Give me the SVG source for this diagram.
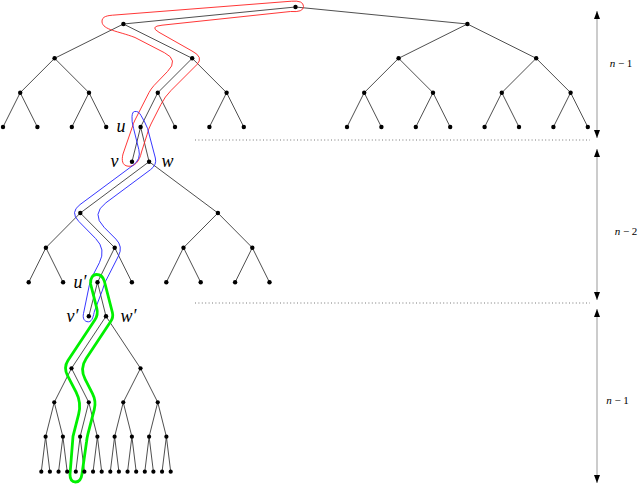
<svg xmlns="http://www.w3.org/2000/svg" width="639" height="485" viewBox="0 0 639 485">
<defs>
<style>
.e{stroke:#222;stroke-width:0.8;fill:none}
.n circle{fill:#000}
.lbl{font-family:"Liberation Serif",serif;font-style:italic;font-size:18px;fill:#000;text-anchor:middle}
.dim{font-family:"Liberation Serif",serif;font-size:11px;fill:#000;text-anchor:middle}
.dot{stroke:#555;stroke-width:0.8;stroke-dasharray:1 2.4;fill:none}
.ar{stroke:#999;stroke-width:1;fill:none;marker-start:url(#ah);marker-end:url(#ah)}
.loop{fill:none;stroke-linejoin:round}
</style>
<marker id="ah" markerUnits="userSpaceOnUse" markerWidth="8" markerHeight="6" refX="8" refY="3" orient="auto-start-reverse" viewBox="0 0 8 6"><path d="M0,0 L8,3 L0,6 Z" fill="#000"/></marker>
</defs>
<rect width="639" height="485" fill="#fff"/>
<g id="connectors" class="e">
<path d="M295.5,7L123.4,24 M295.5,7L467.4,24 M123.4,24L54.6,58.3 M123.4,24L192.2,58.3 M467.4,24L398.6,58.3 M467.4,24L536.2,58.3 M54.6,58.3L20.2,92.7 M54.6,58.3L89,92.7 M192.2,58.3L157.8,92.7 M192.2,58.3L226.6,92.7 M398.6,58.3L364.2,92.7 M398.6,58.3L433,92.7 M536.2,58.3L501.8,92.7 M536.2,58.3L570.6,92.7 M20.2,92.7L3,127 M20.2,92.7L37.4,127 M89,92.7L71.8,127 M89,92.7L106.2,127 M157.8,92.7L140.6,127 M157.8,92.7L175,127 M226.6,92.7L209.4,127 M226.6,92.7L243.8,127 M364.2,92.7L347,127 M364.2,92.7L381.4,127 M433,92.7L415.8,127 M433,92.7L450.2,127 M501.8,92.7L484.6,127 M501.8,92.7L519,127 M570.6,92.7L553.4,127 M570.6,92.7L587.8,127"/>
<path d="M140.6,127L132,161.7 M140.6,127L149.1,161.7 M149.1,161.7L80.3,213 M149.1,161.7L217.9,213 M80.3,213L45.9,247.7 M80.3,213L114.7,247.7 M217.9,213L183.5,247.7 M217.9,213L252.3,247.7 M45.9,247.7L28.7,282.3 M45.9,247.7L63.1,282.3 M114.7,247.7L97.5,282.3 M114.7,247.7L131.9,282.3 M183.5,247.7L166.3,282.3 M183.5,247.7L200.7,282.3 M252.3,247.7L235.1,282.3 M252.3,247.7L269.5,282.3"/>
<path d="M97.5,282.3L88.8,316.3 M97.5,282.3L106,316.3 M106,316.3L71.5,368.3 M106,316.3L140.5,368.3 M71.5,368.3L54.25,402.3 M71.5,368.3L88.75,402.3 M140.5,368.3L123.25,402.3 M140.5,368.3L157.75,402.3 M54.25,402.3L45.6,436.7 M54.25,402.3L62.9,436.7 M88.75,402.3L80.1,436.7 M88.75,402.3L97.4,436.7 M123.25,402.3L114.6,436.7 M123.25,402.3L131.9,436.7 M157.75,402.3L149.1,436.7 M157.75,402.3L166.4,436.7 M45.6,436.7L41.3,471.7 M45.6,436.7L49.9,471.7 M62.9,436.7L58.55,471.7 M62.9,436.7L67.2,471.7 M80.1,436.7L75.8,471.7 M80.1,436.7L84.4,471.7 M97.4,436.7L93.05,471.7 M97.4,436.7L101.7,471.7 M114.6,436.7L110.3,471.7 M114.6,436.7L118.9,471.7 M131.9,436.7L127.55,471.7 M131.9,436.7L136.2,471.7 M149.1,436.7L144.8,471.7 M149.1,436.7L153.4,471.7 M166.4,436.7L162.05,471.7 M166.4,436.7L170.7,471.7"/>
</g>
<g id="guides">
<path class="dot" d="M195,140 H590 M195,303 H590"/>
<path class="ar" d="M597,11 V138"/>
<path class="ar" d="M597,149 V300"/>
<path class="ar" d="M597,309 V483"/>
<text class="dim" x="621" y="66.5"><tspan font-style="italic">n</tspan> − 1</text>
<text class="dim" x="626" y="235"><tspan font-style="italic">n</tspan> − 2</text>
<text class="dim" x="617.5" y="404"><tspan font-style="italic">n</tspan> − 1</text>
</g>
<g id="loops">
<path id="loop-red" class="loop" stroke="#ff2020" stroke-width="0.9" d="M115,15 L291.5,1.2 Q303.5,0.2 303.5,6.5 Q303.5,12.5 290.5,11.5 L162,25.2 Q149,26.5 159,32.3 L192,51 Q204,57.2 197,64.5 L171,90.5 Q164.9,96.6 161,104.3 L151,124 Q148.4,129 147,134.8 L141.5,152 C139.5,162 134,167 128,166.2 C122,165.5 121.5,160 123,154 L132.3,127 Q133.3,123.4 135,120 L149,92.5 Q150.9,89 154,85.5 L167.6,71.4 Q178.9,60 164.6,52.8 L135,37.5 C118,31 103,30 102,22 C101.5,16 108,15.5 115,15 Z"/>
<path id="loop-blue" class="loop" stroke="#2020ff" stroke-width="0.9" d="M134.5,111.5 C137.5,111 139.5,112.5 141,115.5 Q145,122 147.6,128.5 L155.35,158 Q157,164.8 150.6,169.6 L105.9,202.8 Q91,213.9 104,227.2 L115.9,239.1 Q123.25,246.6 118.5,255.9 L106,280.5 Q103.8,285 102.5,290 L94.5,311 C93.5,315 92.5,321.8 88.5,321.8 C84,321.8 82.5,318 83.5,313.5 L89.3,285.3 Q90.8,279.5 93.5,274.2 L99.4,262.7 Q106.2,249.3 95.7,238.6 L78.7,221.3 Q69.7,212.2 80,204.6 L133.2,165.2 Q141.2,159.2 138.8,149.5 L133.6,128.5 Q131.5,121 132,116.5 C132.3,113.5 133,111.7 134.5,111.5 Z"/>
<path id="loop-green" class="loop" stroke="#00f000" stroke-width="2.8" d="M90.6,284 C90,278 93,274.5 96.5,274.5 C100.5,274.5 103.2,277.5 104.3,281 L112.4,312.5 Q113.6,317.3 110.5,321.8 L86.2,358.4 Q79.6,368.4 85.1,379.1 L92.5,393.6 Q96.4,401.2 94.3,409.4 L87.9,434.2 Q86.95,438.1 86.5,442 L82,474 C81.2,480 78.5,482 75.5,482 C72,482 70,479 70,474.5 L73,436.4 L78.6,414.4 Q81.6,402.8 76.1,392.1 L67.65,375.95 Q63.3,367.5 67.95,360.5 L94.8,320.1 Q98.4,314.7 96.8,308.4 Z"/>
</g>
<g id="tree1">
<g id="root" class="n"><circle cx="295.5" cy="7" r="2.2"/></g>
<g id="a1" class="n"><circle cx="123.4" cy="24" r="2.2"/></g>
<g id="a2" class="n"><circle cx="467.4" cy="24" r="2.2"/></g>
<g id="b1" class="n"><circle cx="54.6" cy="58.3" r="2.2"/></g>
<g id="b2" class="n"><circle cx="192.2" cy="58.3" r="2.2"/></g>
<g id="b3" class="n"><circle cx="398.6" cy="58.3" r="2.2"/></g>
<g id="b4" class="n"><circle cx="536.2" cy="58.3" r="2.2"/></g>
<g id="c1" class="n"><circle cx="20.2" cy="92.7" r="2.2"/></g>
<g id="c2" class="n"><circle cx="89" cy="92.7" r="2.2"/></g>
<g id="c3" class="n"><circle cx="157.8" cy="92.7" r="2.2"/></g>
<g id="c4" class="n"><circle cx="226.6" cy="92.7" r="2.2"/></g>
<g id="c5" class="n"><circle cx="364.2" cy="92.7" r="2.2"/></g>
<g id="c6" class="n"><circle cx="433" cy="92.7" r="2.2"/></g>
<g id="c7" class="n"><circle cx="501.8" cy="92.7" r="2.2"/></g>
<g id="c8" class="n"><circle cx="570.6" cy="92.7" r="2.2"/></g>
<g id="d1" class="n"><circle cx="3" cy="127" r="2.2"/></g>
<g id="d2" class="n"><circle cx="37.4" cy="127" r="2.2"/></g>
<g id="d3" class="n"><circle cx="71.8" cy="127" r="2.2"/></g>
<g id="d4" class="n"><circle cx="106.2" cy="127" r="2.2"/></g>
<g id="u" class="n"><circle cx="140.6" cy="127" r="2.2"/></g>
<g id="d6" class="n"><circle cx="175" cy="127" r="2.2"/></g>
<g id="d7" class="n"><circle cx="209.4" cy="127" r="2.2"/></g>
<g id="d8" class="n"><circle cx="243.8" cy="127" r="2.2"/></g>
<g id="d9" class="n"><circle cx="347" cy="127" r="2.2"/></g>
<g id="d10" class="n"><circle cx="381.4" cy="127" r="2.2"/></g>
<g id="d11" class="n"><circle cx="415.8" cy="127" r="2.2"/></g>
<g id="d12" class="n"><circle cx="450.2" cy="127" r="2.2"/></g>
<g id="d13" class="n"><circle cx="484.6" cy="127" r="2.2"/></g>
<g id="d14" class="n"><circle cx="519" cy="127" r="2.2"/></g>
<g id="d15" class="n"><circle cx="553.4" cy="127" r="2.2"/></g>
<g id="d16" class="n"><circle cx="587.8" cy="127" r="2.2"/></g>
</g>
<g id="tree2">
<g id="v" class="n"><circle cx="132" cy="161.7" r="2.2"/></g>
<g id="w" class="n"><circle cx="149.1" cy="161.7" r="2.2"/></g>
<g id="e1" class="n"><circle cx="80.3" cy="213" r="2.2"/></g>
<g id="e2" class="n"><circle cx="217.9" cy="213" r="2.2"/></g>
<g id="f1" class="n"><circle cx="45.9" cy="247.7" r="2.2"/></g>
<g id="f2" class="n"><circle cx="114.7" cy="247.7" r="2.2"/></g>
<g id="f3" class="n"><circle cx="183.5" cy="247.7" r="2.2"/></g>
<g id="f4" class="n"><circle cx="252.3" cy="247.7" r="2.2"/></g>
<g id="g1" class="n"><circle cx="28.7" cy="282.3" r="2.2"/></g>
<g id="g2" class="n"><circle cx="63.1" cy="282.3" r="2.2"/></g>
<g id="u2" class="n"><circle cx="97.5" cy="282.3" r="2.2"/></g>
<g id="g4" class="n"><circle cx="131.9" cy="282.3" r="2.2"/></g>
<g id="g5" class="n"><circle cx="166.3" cy="282.3" r="2.2"/></g>
<g id="g6" class="n"><circle cx="200.7" cy="282.3" r="2.2"/></g>
<g id="g7" class="n"><circle cx="235.1" cy="282.3" r="2.2"/></g>
<g id="g8" class="n"><circle cx="269.5" cy="282.3" r="2.2"/></g>
</g>
<g id="tree3">
<g id="v2" class="n"><circle cx="88.8" cy="316.3" r="2.2"/></g>
<g id="w2" class="n"><circle cx="106" cy="316.3" r="2.2"/></g>
<g id="h1" class="n"><circle cx="71.5" cy="368.3" r="2.1"/></g>
<g id="h2" class="n"><circle cx="140.5" cy="368.3" r="2.1"/></g>
<g id="i1" class="n"><circle cx="54.25" cy="402.3" r="2.1"/></g>
<g id="i2" class="n"><circle cx="88.75" cy="402.3" r="2.1"/></g>
<g id="i3" class="n"><circle cx="123.25" cy="402.3" r="2.1"/></g>
<g id="i4" class="n"><circle cx="157.75" cy="402.3" r="2.1"/></g>
<g id="j1" class="n"><circle cx="45.6" cy="436.7" r="2.1"/></g>
<g id="j2" class="n"><circle cx="62.9" cy="436.7" r="2.1"/></g>
<g id="j3" class="n"><circle cx="80.1" cy="436.7" r="2.1"/></g>
<g id="j4" class="n"><circle cx="97.4" cy="436.7" r="2.1"/></g>
<g id="j5" class="n"><circle cx="114.6" cy="436.7" r="2.1"/></g>
<g id="j6" class="n"><circle cx="131.9" cy="436.7" r="2.1"/></g>
<g id="j7" class="n"><circle cx="149.1" cy="436.7" r="2.1"/></g>
<g id="j8" class="n"><circle cx="166.4" cy="436.7" r="2.1"/></g>
<g id="k1" class="n"><circle cx="41.3" cy="471.7" r="2.1"/></g>
<g id="k2" class="n"><circle cx="49.9" cy="471.7" r="2.1"/></g>
<g id="k3" class="n"><circle cx="58.55" cy="471.7" r="2.1"/></g>
<g id="k4" class="n"><circle cx="67.2" cy="471.7" r="2.1"/></g>
<g id="k5" class="n"><circle cx="75.8" cy="471.7" r="2.1"/></g>
<g id="k6" class="n"><circle cx="84.4" cy="471.7" r="2.1"/></g>
<g id="k7" class="n"><circle cx="93.05" cy="471.7" r="2.1"/></g>
<g id="k8" class="n"><circle cx="101.7" cy="471.7" r="2.1"/></g>
<g id="k9" class="n"><circle cx="110.3" cy="471.7" r="2.1"/></g>
<g id="k10" class="n"><circle cx="118.9" cy="471.7" r="2.1"/></g>
<g id="k11" class="n"><circle cx="127.55" cy="471.7" r="2.1"/></g>
<g id="k12" class="n"><circle cx="136.2" cy="471.7" r="2.1"/></g>
<g id="k13" class="n"><circle cx="144.8" cy="471.7" r="2.1"/></g>
<g id="k14" class="n"><circle cx="153.4" cy="471.7" r="2.1"/></g>
<g id="k15" class="n"><circle cx="162.05" cy="471.7" r="2.1"/></g>
<g id="k16" class="n"><circle cx="170.7" cy="471.7" r="2.1"/></g>
</g>
<g id="labels">
<text class="lbl" x="121" y="132">u</text>
<text class="lbl" x="114.5" y="167">v</text>
<text class="lbl" x="167.5" y="167">w</text>
<text class="lbl" x="80" y="288">u′</text>
<text class="lbl" x="72.5" y="322">v′</text>
<text class="lbl" x="128.5" y="322">w′</text>
</g>
</svg>
